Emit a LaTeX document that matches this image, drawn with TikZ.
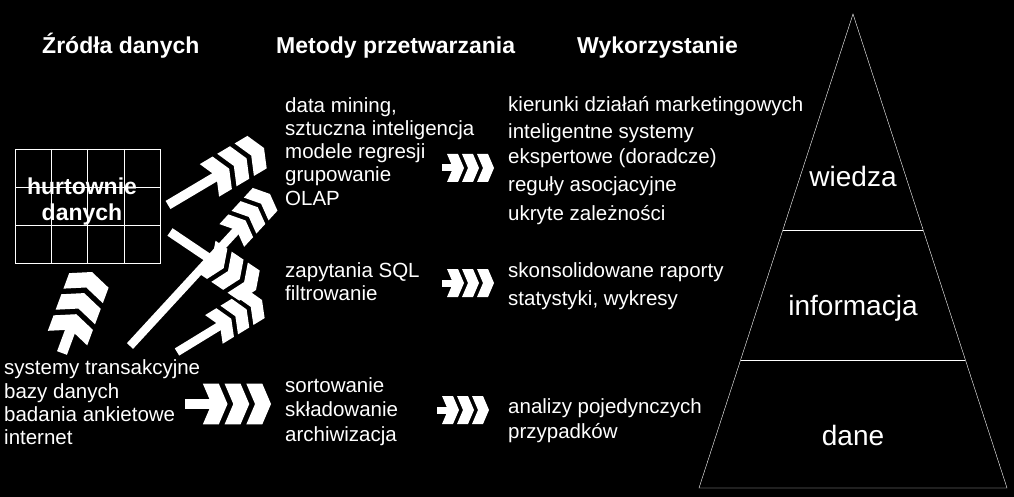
\documentclass[tikz,border=0pt]{standalone}
\usepackage{fontspec}
\setmainfont{Liberation Sans}
\usetikzlibrary{calc,positioning}
\tikzstyle{txt} = [text=white, inner sep=0, anchor=base west, font=\fontsize{20.5}{23}\selectfont]
\tikzstyle{head} = [txt, font=\fontsize{23}{27}\selectfont\bfseries]
\tikzstyle{level} = [text=white, inner sep=0, anchor=base, font=\fontsize{28}{32}\selectfont]
\tikzstyle{hurt} = [text=white, inner sep=0, anchor=base, font=\fontsize{23}{27}\selectfont\bfseries]
\tikzstyle{chev} = [fill=white]
\tikzset{x=1pt, y=-1pt, line width=2.5pt}

% bar and three chevrons: scale, tail, tip
\newcommand{\chevarrow}[3]{%
  \path let \p1 = ($(#3)-(#2)$) in \pgfextra{%
    \pgfmathsetmacro\chevang{atan2(\y1,\x1)}\xdef\chevang{\chevang}%
    \pgfmathsetmacro\chevbar{veclen(\x1,\y1)/#1}\xdef\chevbar{\chevbar}};
  \begin{scope}[shift={(#3)}, rotate=\chevang, scale=#1]
    \fill[chev] (-\chevbar,-3.5) rectangle (-40,3.5);
    \foreach \k in {0,15,30}
      \fill[chev] (-\k-17,-14) -- (-\k-6,-14) -- (-\k,0) -- (-\k-6,14) -- (-\k-17,14) -- (-\k-11,0) -- cycle;
  \end{scope}}

\begin{document}
\begin{tikzpicture}
\fill[black] (0,0) rectangle (1014,497);
\useasboundingbox (0,0) rectangle (1014,497);

% headings
\node[head] (zrodla) at (42,54) {Źródła danych};
\node[head] (metody) at (276,54) {Metody przetwarzania};
\node[head] (wyk) at (577,54) {Wykorzystanie};

% data warehouse
\draw[white] (15,149) rectangle (160,263);
\foreach \x in {51.25,87.5,123.75} \draw[white] (\x,149) -- (\x,263);
\foreach \y in {187,225} \draw[white] (15,\y) -- (160,\y);
\node[hurt] (hurt1) at (82,194) {hurtownie};
\node[hurt] (hurt2) at (82,220) {danych};

% sources
\node[txt] (src1) at (4,374) {systemy transakcyjne};
\node[txt] (src2) at (4,398) {bazy danych};
\node[txt] (src3) at (4,421) {badania ankietowe};
\node[txt] (src4) at (4,444) {internet};

% methods
\node[txt] (dm1) at (285,113) {data mining,};
\node[txt] (dm2) at (285,136) {sztuczna inteligencja};
\node[txt] (dm3) at (285,159) {modele regresji};
\node[txt] (dm4) at (285,182) {grupowanie};
\node[txt] (dm5) at (285,205) {OLAP};
\node[txt] (sql1) at (285,277) {zapytania SQL};
\node[txt] (sql2) at (285,300) {filtrowanie};
\node[txt] (sort1) at (285,392) {sortowanie};
\node[txt] (sort2) at (285,416) {składowanie};
\node[txt] (sort3) at (285,441) {archiwizacja};

% uses
\node[txt] (use1) at (508,112) {kierunki działań marketingowych};
\node[txt] (use2) at (508,139) {inteligentne systemy};
\node[txt] (use3) at (508,164) {ekspertowe (doradcze)};
\node[txt] (use4) at (508,192) {reguły asocjacyjne};
\node[txt] (use5) at (508,220) {ukryte zależności};
\node[txt] (rap1) at (508,277) {skonsolidowane raporty};
\node[txt] (rap2) at (508,305) {statystyki, wykresy};
\node[txt] (ana1) at (508,413) {analizy pojedynczych};
\node[txt] (ana2) at (508,438) {przypadków};

% pyramid
\coordinate (apex) at (853,14);
\coordinate (bl) at (699,488);
\coordinate (br) at (1007,488);
\draw[white] (apex) -- (bl) -- (br) -- cycle;
\draw[white] ($(apex)!0.4557!(bl)$) -- ($(apex)!0.4557!(br)$);
\draw[white] ($(apex)!0.73!(bl)$) -- ($(apex)!0.73!(br)$);
\node[level] (wiedza) at (853,187) {wiedza};
\node[level] (info) at (853,315) {informacja};
\node[level] (dane) at (853,445) {dane};

% arrow ends
\coordinate (r1s) at (442,168); \coordinate (r1e) at (494,168);
\coordinate (r2s) at (442,283); \coordinate (r2e) at (494,283);
\coordinate (r3s) at (437,410); \coordinate (r3e) at (489,410);
\coordinate (srcs) at (185,404); \coordinate (srce) at (271,404);
\coordinate (ups) at (62,353); \coordinate (upe) at (92,272);
\coordinate (hdms) at (168,205); \coordinate (hdme) at (264,148);
\coordinate (hsqls) at (170,232); \coordinate (hsqle) at (256,290);
\coordinate (ssqls) at (177,352); \coordinate (ssqle) at (262,300);
\coordinate (sdms) at (130,346); \coordinate (sdme) at (270,194);

\chevarrow{1}{r1s}{r1e}
\chevarrow{1}{r2s}{r2e}
\chevarrow{1}{r3s}{r3e}
\chevarrow{1.45}{srcs}{srce}
\chevarrow{1.5}{ups}{upe}
\chevarrow{1.35}{hdms}{hdme}
\chevarrow{1.3}{hsqls}{hsqle}
\chevarrow{1.2}{ssqls}{ssqle}
\chevarrow{1.2}{sdms}{sdme}
\end{tikzpicture}
\end{document}
